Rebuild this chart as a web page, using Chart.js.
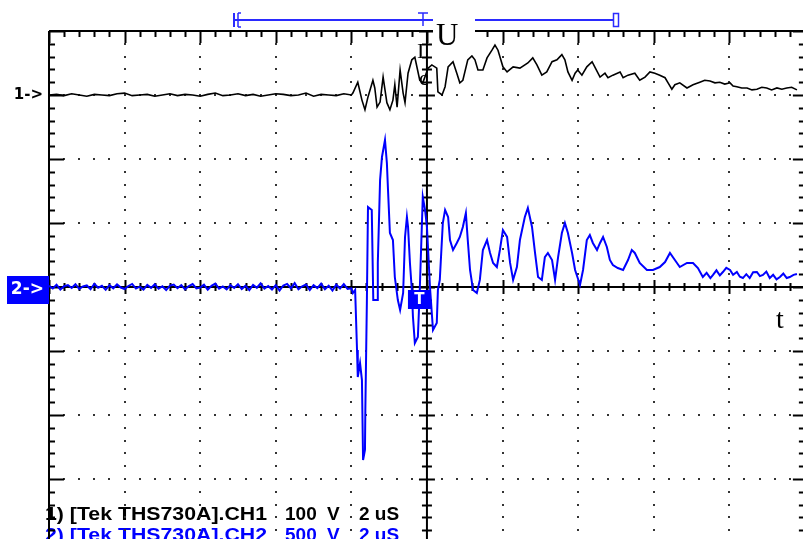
<!DOCTYPE html>
<html>
<head>
<meta charset="utf-8">
<script src="https://cdn.jsdelivr.net/npm/chart.js@4.4.1/dist/chart.umd.min.js"></script>
<style>
  html, body { margin: 0; padding: 0; background: #fff; }
  #wrap { width: 803px; height: 539px; }
</style>
</head>
<body>
<div id="wrap"><canvas id="scope" width="803" height="539"></canvas></div>
<script>
// --- Trace data (time in uS from left edge of screen, volts relative to channel ground) ---
const ch1Time = [
  0.0, 0.2, 0.4, 0.6, 0.8, 1.0, 1.2, 1.4, 1.6, 1.8,
  2.0, 2.2, 2.4, 2.6, 2.8, 3.0, 3.2, 3.4, 3.6, 3.8,
  4.0, 4.2, 4.4, 4.6, 4.8, 5.0, 5.2, 5.4, 5.6, 5.8,
  6.0, 6.2, 6.4, 6.6, 6.8, 7.0, 7.2, 7.4, 7.6, 7.8, 8.0,
  8.04, 8.17, 8.28, 8.36, 8.44, 8.57, 8.62, 8.68, 8.76, 8.84,
  8.94, 9.02, 9.10, 9.15, 9.21, 9.29, 9.37, 9.42, 9.50, 9.60,
  9.68, 9.81, 9.89, 10.03, 10.13, 10.26, 10.29, 10.40, 10.48, 10.56,
  10.69, 10.79, 10.87, 10.95, 11.08, 11.19, 11.27, 11.35, 11.48, 11.59,
  11.72, 11.80, 11.88, 12.01, 12.12, 12.28, 12.46, 12.67, 12.80, 12.91,
  13.04, 13.17, 13.31, 13.44, 13.57, 13.65, 13.73, 13.84, 13.92, 13.99,
  14.10, 14.23, 14.37, 14.44, 14.58, 14.71, 14.79, 14.92, 15.11, 15.19,
  15.32, 15.50, 15.63, 15.77, 15.90, 16.03, 16.16, 16.30, 16.38, 16.48,
  16.56, 16.69, 16.88, 17.04, 17.22, 17.35, 17.49, 17.62, 17.75, 17.88,
  18.02, 18.10, 18.20, 18.33, 18.47, 18.60, 18.73, 18.86, 18.99, 19.12,
  19.26, 19.39, 19.52, 19.65, 19.79
];
const ch1Volts = [
  0, 1, -1, 2, 0, -2, 1, 0, -1, 2,
  3, -1, 0, 1, -2, 0, 2, -1, 1, 0,
  -2, 1, 3, -1, 0, 2, -1, 1, -2, 0,
  2, 1, -1, 0, 3, -2, 1, 0, -1, 2, 0,
  3, 20, -8, -23, -3, 23, 11, -19, -11, 28,
  -12, -23, -8, 16, -19, 39, 3, -12, 34, 55,
  59, 23, 19, 42, 47, 42, 5, 0, 13, 44,
  52, 34, 19, 23, 55, 61, 55, 39, 39, 58,
  70, 78, 70, 44, 36, 44, 42, 50, 58, 47,
  31, 36, 52, 55, 63, 55, 36, 23, 34, 39,
  31, 44, 52, 44, 28, 34, 27, 31, 36, 27,
  31, 34, 23, 28, 36, 34, 31, 27, 19, 9,
  16, 19, 11, 16, 20, 23, 22, 19, 20, 17,
  19, 14, 13, 11, 11, 8, 9, 12, 11, 8,
  11, 9, 11, 12, 8
];

const ch2Time = [
  0.0, 0.1, 0.2, 0.3, 0.4, 0.5, 0.6, 0.7, 0.8, 0.9,
  1.0, 1.1, 1.2, 1.3, 1.4, 1.5, 1.6, 1.7, 1.8, 1.9,
  2.0, 2.1, 2.2, 2.3, 2.4, 2.5, 2.6, 2.7, 2.8, 2.9,
  3.0, 3.1, 3.2, 3.3, 3.4, 3.5, 3.6, 3.7, 3.8, 3.9,
  4.0, 4.1, 4.2, 4.3, 4.4, 4.5, 4.6, 4.7, 4.8, 4.9,
  5.0, 5.1, 5.2, 5.3, 5.4, 5.5, 5.6, 5.7, 5.8, 5.9,
  6.0, 6.1, 6.2, 6.3, 6.4, 6.5, 6.6, 6.7, 6.8, 6.9,
  7.0, 7.1, 7.2, 7.3, 7.4, 7.5, 7.6, 7.7, 7.8, 7.9,
  8.0,
  8.04, 8.10, 8.15, 8.17, 8.23, 8.28, 8.31, 8.36, 8.37, 8.41,
  8.44, 8.54, 8.57, 8.58, 8.68, 8.70, 8.76, 8.81, 8.89, 8.94,
  8.97, 9.02, 9.10, 9.15, 9.23, 9.29, 9.37, 9.42, 9.47, 9.50,
  9.55, 9.60, 9.63, 9.68, 9.76, 9.81, 9.89, 9.95, 10.00, 10.08,
  10.16, 10.26, 10.29, 10.34, 10.42, 10.48, 10.56, 10.61, 10.69, 10.79,
  10.87, 10.95, 11.03, 11.08, 11.14, 11.22, 11.32, 11.40, 11.48, 11.59,
  11.67, 11.75, 11.85, 11.93, 12.01, 12.12, 12.20, 12.28, 12.38, 12.46,
  12.59, 12.67, 12.78, 12.86, 12.94, 13.04, 13.12, 13.20, 13.31, 13.39,
  13.47, 13.57, 13.65, 13.73, 13.84, 13.92, 14.05, 14.13, 14.23, 14.31,
  14.39, 14.50, 14.58, 14.66, 14.76, 14.84, 14.92, 15.05, 15.19, 15.32,
  15.42, 15.50, 15.63, 15.82, 15.98, 16.16, 16.30, 16.43, 16.56, 16.69,
  16.88, 17.04, 17.17, 17.30, 17.40, 17.50, 17.57, 17.66, 17.75, 17.83,
  17.92, 18.02, 18.10, 18.20, 18.28, 18.36, 18.45, 18.54, 18.63, 18.73,
  18.81, 18.89, 18.98, 19.07, 19.16, 19.25, 19.34, 19.43, 19.52, 19.60,
  19.70, 19.79
];
const ch2Volts = [
  10, -12, 18, -20, 6, 15, -8, 22, -15, 4,
  12, -18, 25, -6, 9, -22, 14, -10, 20, -4,
  -16, 8, 24, -12, 3, -20, 16, -7, 21, -14,
  6, -24, 11, 19, -9, 15, -18, 7, 23, -11,
  -5, 18, -21, 9, 26, -13, 4, -19, 14, -8,
  22, -16, 10, -25, 17, -6, 28, -12, 8, -20,
  15, -27, 12, 24, -10, 30, -18, 6, 20, -24,
  14, -9, 26, -17, 10, -28, 18, -12, 22, -15,
  -10,
  -47, -23, -492, -703, -594, -727, -1352, -1273, -961, -125,
  625, 602, 78, -102, -102, 188, 836, 1016, 1148, 969,
  758, 422, 367, 78, -102, -180, -47, 391, 547, 469,
  188, -23, -234, -438, -391, -23, 703, 602, 469, 0,
  -336, -281, -23, 55, 500, 602, 547, 367, 289, 344,
  391, 469, 578, 367, 133, -23, -47, 55, 289, 367,
  266, 188, 156, 289, 445, 391, 188, 55, 156, 367,
  547, 617, 469, 266, 78, 55, 234, 266, 211, 55,
  234, 422, 500, 422, 266, 133, 16, 133, 367, 406,
  344, 289, 344, 391, 313, 211, 172, 148, 133, 211,
  289, 266, 188, 133, 133, 156, 195, 266, 211, 156,
  188, 188, 148, 78, 110, 70, 94, 130, 90, 117,
  150, 133, 95, 117, 80, 70, 100, 70, 115, 117,
  85, 94, 120, 70, 95, 60, 78, 105, 70, 78,
  95, 102
];

// channel settings
const voltsPerDiv = [100, 500];
const groundDiv = [3, 0];
const channelNames = ['1) [Tek THS730A].CH1', '2) [Tek THS730A].CH2'];
const channelScale = [['100', 'V', '2 uS'], ['500', 'V', '2 uS']];
const uSPerDiv = 2;

function toPoints(times, volts, ch) {
  return times.map((t, i) => ({ x: t, y: groundDiv[ch] + volts[i] / voltsPerDiv[ch] }));
}

const BLUE = '#0000ff';
const BOLD = '"DejaVu Sans", "Liberation Sans", Arial, sans-serif';
const READOUT = '"Liberation Sans", Arial, sans-serif';

const graticule = {
  id: 'graticule',
  beforeDatasetsDraw(chart) {
    const { ctx, scales: { x, y } } = chart;
    const px = d => x.getPixelForValue(d * uSPerDiv);
    const py = d => y.getPixelForValue(d);
    ctx.save();

    // readout text (under the grid dots)
    ctx.font = 'bold 19px ' + READOUT;
    ctx.textBaseline = 'alphabetic';
    const cols = [285, 327, 359];
    ['#000', BLUE].forEach((col, ch) => {
      const base = 520 + ch * 21;
      ctx.fillStyle = col;
      const w = ctx.measureText(channelNames[ch]).width;
      ctx.save();
      ctx.translate(45, base);
      ctx.scale(222 / w, 1);
      ctx.fillText(channelNames[ch], 0, 0);
      ctx.restore();
      channelScale[ch].forEach((s, i) => ctx.fillText(s, cols[i], base));
    });

    // dotted graticule
    ctx.fillStyle = '#333';
    for (let k = 1; k < 10; k++) {
      if (k === 5) continue;
      for (let j = -20; j <= 20; j++) ctx.fillRect(Math.round(px(k)) - 1, Math.round(py(j / 5)) - 1, 2, 2);
    }
    for (let k = -3; k <= 3; k++) {
      if (k === 0) continue;
      for (let j = 0; j <= 50; j++) ctx.fillRect(Math.round(px(j / 5)) - 1, Math.round(py(k)) - 1, 2, 2);
    }

    ctx.strokeStyle = '#000';
    ctx.lineWidth = 2;
    const line = (x1, y1, x2, y2) => { ctx.beginPath(); ctx.moveTo(x1, y1); ctx.lineTo(x2, y2); ctx.stroke(); };
    const L = px(0), R = px(10), T = py(4), B = py(-4), CX = px(5), CY = py(0);

    // frame
    line(L, T, L, B);
    line(L, T, R + 2, T);
    line(CX, T, CX, B);
    line(L, CY, R, CY);

    // ticks
    for (let j = 0; j <= 50; j++) {
      const xx = Math.round(px(j / 5)) + 0.5;
      const major = j % 5 === 0;
      line(xx, T, xx, T + (major ? 12 : 6));
      line(xx, CY - (major ? 7 : 4), xx, CY + (major ? 7 : 4));
    }
    for (let j = -20; j <= 20; j++) {
      const yy = Math.round(py(j / 5)) + 0.5;
      const major = j % 5 === 0;
      line(L, yy, L + (major ? 15 : 6), yy);
      line(CX - (major ? 8 : 5), yy, CX + (major ? 8 : 5), yy);
      line(R, yy, R - (major ? 12 : 6), yy);
    }
    ctx.restore();
  },
  afterDraw(chart) {
    const { ctx, scales: { x, y } } = chart;
    const px = d => x.getPixelForValue(d * uSPerDiv);
    const py = d => y.getPixelForValue(d);
    ctx.save();

    // channel ground markers
    ctx.fillStyle = '#000';
    ctx.font = 'bold 15px ' + BOLD;
    ctx.textBaseline = 'middle';
    ctx.textAlign = 'right';
    ctx.fillText('1->', 43, py(groundDiv[0]));
    ctx.fillStyle = BLUE;
    ctx.fillRect(7, py(groundDiv[1]) - 11, 42, 28);
    ctx.fillStyle = '#fff';
    ctx.font = 'bold 17px ' + BOLD;
    ctx.fillText('2->', 44, py(groundDiv[1]) + 3);

    // trigger marker
    ctx.fillStyle = BLUE;
    ctx.fillRect(px(5) - 19, py(0) + 3, 23, 19);
    ctx.fillStyle = '#fff';
    ctx.textAlign = 'center';
    ctx.font = 'bold 15px ' + BOLD;
    ctx.fillText('T', px(5) - 7.5, py(0) + 13);

    // cursor bar at top
    ctx.strokeStyle = '#2a2aff';
    ctx.lineWidth = 2;
    const seg = (x1, y1, x2, y2) => { ctx.beginPath(); ctx.moveTo(x1, y1); ctx.lineTo(x2, y2); ctx.stroke(); };
    seg(234, 20, 613, 20);
    seg(234, 13, 234, 27);
    ctx.lineWidth = 1.5;
    seg(238, 13, 238, 27); seg(238, 13, 241, 13); seg(238, 27, 241, 27);
    seg(418, 13, 428, 13); seg(423, 13, 423, 26);
    ctx.strokeRect(613.5, 13.5, 5, 13);

    // axis annotations
    ctx.fillStyle = '#fff';
    ctx.fillRect(433, 8, 42, 40);
    ctx.fillStyle = '#000';
    ctx.textAlign = 'left';
    ctx.textBaseline = 'alphabetic';
    ctx.font = '31px "Liberation Serif", "Times New Roman", serif';
    ctx.fillText('U', 436, 45);
    ctx.font = '22px "Liberation Serif", "Times New Roman", serif';
    ctx.fillText('I', 417, 58);
    ctx.fillText('c', 419, 85);
    ctx.font = '28px "Liberation Serif", "Times New Roman", serif';
    ctx.fillText('t', 776, 328);
    ctx.restore();
  }
};

new Chart(document.getElementById('scope'), {
  type: 'line',
  data: {
    datasets: [
      { label: 'CH1', data: toPoints(ch1Time, ch1Volts, 0), borderColor: '#000', borderWidth: 1.6 },
      { label: 'CH2', data: toPoints(ch2Time, ch2Volts, 1), borderColor: BLUE, borderWidth: 2 }
    ]
  },
  options: {
    responsive: false,
    animation: false,
    devicePixelRatio: 1,
    layout: { padding: { left: 49, top: 31, right: 0, bottom: 0 } },
    elements: { point: { radius: 0 }, line: { tension: 0 } },
    scales: {
      x: { type: 'linear', display: false, min: 0, max: 19.95 },
      y: { type: 'linear', display: false, min: -3.9375, max: 4 }
    },
    plugins: { legend: { display: false }, tooltip: { enabled: false } }
  },
  plugins: [graticule]
});
</script>
</body>
</html>
